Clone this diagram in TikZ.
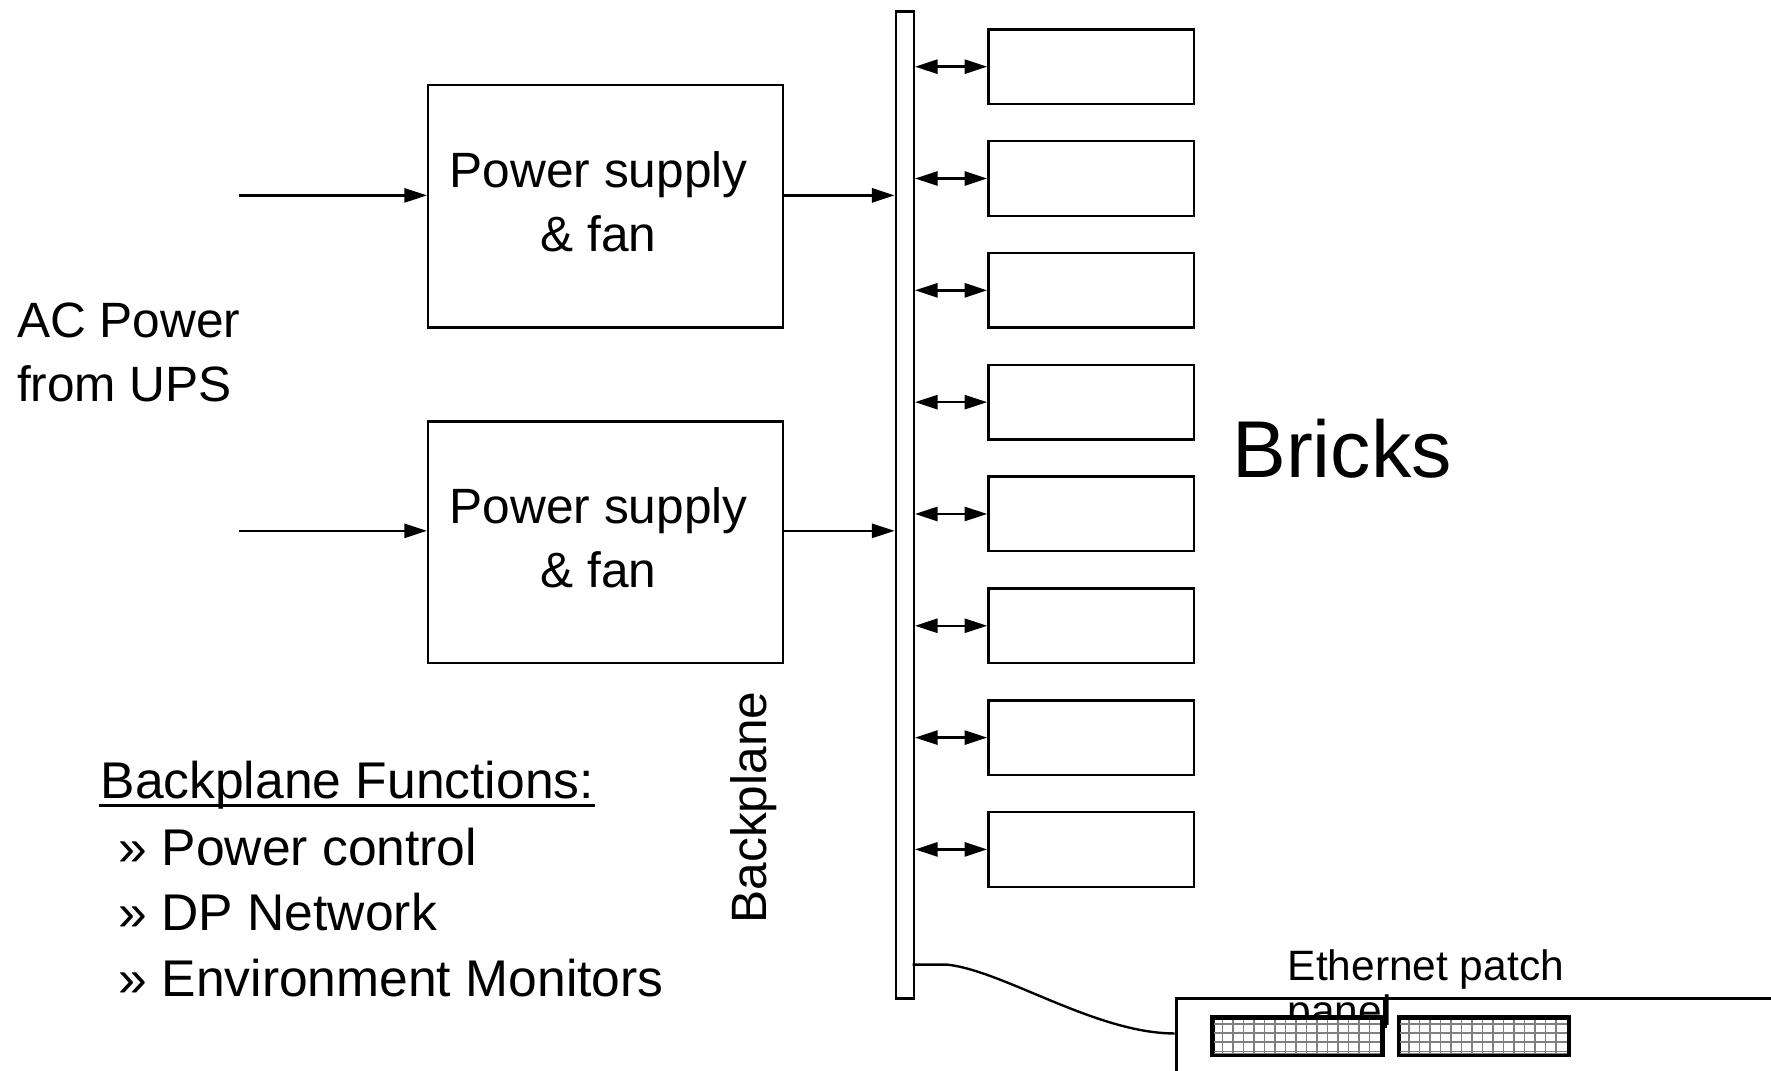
\documentclass[tikz,border=0pt]{standalone}
\usepackage{fontspec}
\setmainfont{Liberation Sans}
\usetikzlibrary{arrows.meta}

\begin{document}
\begin{tikzpicture}[%
		>={Triangle[length=2.0mm,width=1.25mm]},
		line width=0.6pt,
		box/.style={draw, inner sep=0pt, anchor=north west},
		lbl/.style={inner sep=0pt, font=\fontsize{12.5}{16.2}\selectfont},
		lblfunc/.style={inner sep=0pt, anchor=base west, font=\fontsize{13}{16}\selectfont},
		lbleth/.style={inner sep=0pt, anchor=base west, font=\fontsize{10.7}{11.2}\selectfont},
		port/.style={draw, line width=0.8pt, fill=white, inner sep=0pt, anchor=north west,
			minimum width=1.49cm, minimum height=0.32cm}]
		\useasboundingbox (0,0) rectangle (15.68,-9.48);
		% power supplies
		\node[box, minimum width=3.14cm, minimum height=2.15cm] (ps1) at (3.78,-0.74) {};
		\node[box, minimum width=3.14cm, minimum height=2.14cm] (ps2) at (3.78,-3.72) {};
		\foreach \p in {ps1, ps2}
			\node[lbl, align=center] (\p txt) at ([xshift=-0.06cm, yshift=0.04cm]\p.center) {Power supply\\ \& fan};
		\node[box, minimum width=0.16cm, minimum height=8.74cm] (bp) at (7.92,-0.09) {};
		\coordinate (ac1) at (2.12,-1.73);
		\coordinate (ac2) at (2.12,-4.70);
		\foreach \a/\p in {ac1/ps1, ac2/ps2} {
			\draw[->] (\a) -- (\a -| \p.west);
			\draw[->] (\a -| \p.east) -- (\a -| bp.west);
		}
		\node[lbl, anchor=west, align=left] (acpower) at (0.14,-3.12) {AC Power\\from UPS};
		% bricks
		\foreach \i in {1,...,8} {
			\node[box, minimum width=1.82cm, minimum height=0.66cm] (brick\i) at (8.74,{-0.25-0.99*(\i-1)}) {};
			\draw[<->] (brick\i.west -| bp.east) -- (brick\i.west);
		}
		\node[inner sep=0pt, anchor=west, font=\fontsize{20.3}{24}\selectfont] (bricks) at (10.90,-3.97) {Bricks};
		\node[lbl, rotate=90] (bplabel) at (6.67,-7.15) {Backplane};
		% backplane functions
		\node[lblfunc] (funcs) at (0.88,-7.07) {Backplane Functions:};
		\draw[line width=0.7pt] ([yshift=-0.6mm]funcs.base west) -- ([yshift=-0.6mm]funcs.base east);
		\foreach \t [count=\i] in {Power control, DP Network, Environment Monitors}
			\node[lblfunc] (func\i) at (1.04,{-7.08-0.58*\i}) {» \t};
		% ethernet patch panel
		\node[box, line width=0.8pt, minimum width=5.5cm, minimum height=1cm] (panel) at (10.40,-8.83) {};
		\node[lbleth] (eth1) at (11.39,-8.685) {Ethernet patch};
		\node[lbleth] (eth2) at (11.39,-9.08) {panel};
		\coordinate (caret) at (12.26,-8.83);
		\draw[line width=0.9pt] (caret) -- ++(0,-0.27);
		\foreach \px/\nm in {10.73/port1, 12.38/port2} {
			\node[port] (\nm) at (\px,-9.00) {};
			\begin{scope}[shift={(\nm.south west)}, gray, line width=0.4pt]
				\foreach \gx in {1,...,15}
					\draw (\gx*0.093,0) -- (\gx*0.093,0.32);
				\foreach \gy in {0.02,0.04,0.12,0.20,0.28}
					\draw (0,\gy) -- (1.49,\gy);
			\end{scope}
			\draw[line width=0.8pt] (\nm.south west) rectangle (\nm.north east);
		}
		\coordinate (cab0) at (8.08,-8.54);
		\coordinate (cab1) at (10.40,-9.15);
		\draw (cab0) -- ++(0.3,0) .. controls +(0.5,-0.05) and +(-0.7,0) .. (cab1);
	\end{tikzpicture}
\end{document}
